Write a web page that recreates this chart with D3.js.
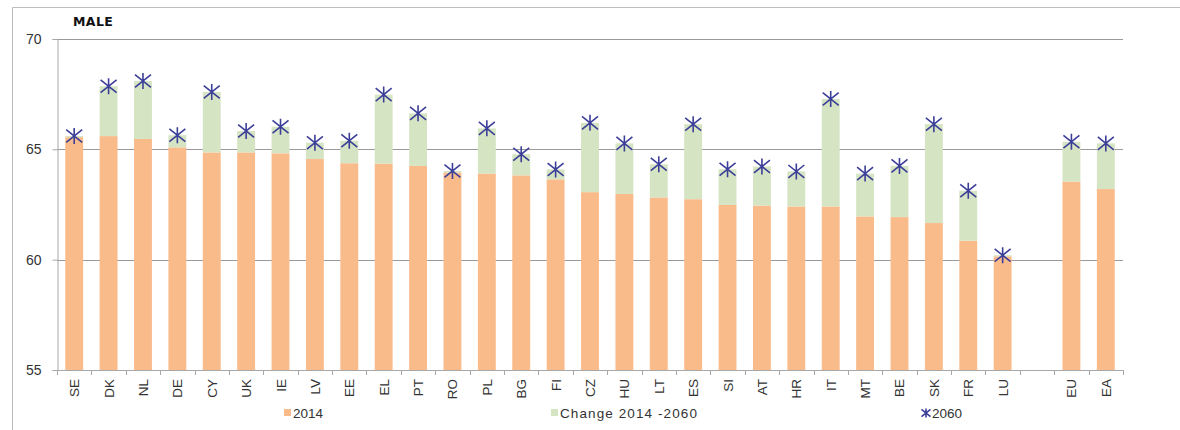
<!DOCTYPE html>
<html>
<head>
<meta charset="utf-8">
<script src="https://cdn.jsdelivr.net/npm/d3@7"></script>
<style>
  html, body { margin: 0; padding: 0; background: #fff; }
  svg { display: block; font-family: "Liberation Sans", Arial, sans-serif; }
</style>
</head>
<body>
<svg id="chart" width="1180" height="430"></svg>
<script>
// Member states, then a gap, then the EU / euro-area aggregates
const countries = ["SE","DK","NL","DE","CY","UK","IE","LV","EE","EL","PT","RO","PL","BG","FI",
                   "CZ","HU","LT","ES","SI","AT","HR","IT","MT","BE","SK","FR","LU"];
const aggregates = ["EU","EA"];

// Values for 2014 and 2060 (same order: countries then aggregates)
const value2014 = [65.55,65.6,65.47,65.09,64.86,64.86,64.82,64.56,64.37,64.35,64.25,63.95,63.9,63.82,63.64,
                   63.06,62.98,62.82,62.74,62.48,62.45,62.41,62.41,61.96,61.93,61.66,60.86,60.15,
                   63.54,63.2];
const value2060 = [65.6,67.86,68.1,65.64,67.6,65.83,66.02,65.3,65.39,67.48,66.63,64.02,65.95,64.78,64.09,
                   66.2,65.27,64.32,66.14,64.1,64.22,64.0,67.28,63.9,64.25,66.14,63.12,60.2,
                   65.34,65.27];

const yTicks = [55, 60, 65, 70];
const legendLabels = ["2014", "Change 2014 -2060", "2060"];

const colors = { base: "#FABB8B", change: "#D5E4C2", star: "#3C3F98", grid: "#9a9a9a", axis: "#a8a8a8" };

const labels = countries.concat(aggregates);
const rows = labels.map((c, i) => ({ c, v0: value2014[i], v1: value2060[i] }));
const gapKey = "__gap__";
const domain = countries.concat([gapKey], aggregates);

const svg = d3.select("#chart");
const plotLeft = 57, plotRight = 1123, plotTop = 39, plotBottom = 370;

// outer frame
svg.append("path")
  .attr("d", `M12.5,440 V7.5 H1180`)
  .attr("fill", "none").attr("stroke", "#bdbdbd").attr("stroke-width", 1);

const x = d3.scaleBand().domain(domain).range([plotLeft, plotRight]).paddingInner(0.48).paddingOuter(0.24);
const y = d3.scaleLinear().domain([55, 70]).range([plotBottom, plotTop]);

// gridlines
svg.append("g").selectAll("line").data(yTicks.filter(t => t > 55)).join("line")
  .attr("x1", plotLeft).attr("x2", plotRight)
  .attr("y1", d => Math.round(y(d)) + 0.5).attr("y2", d => Math.round(y(d)) + 0.5)
  .attr("stroke", colors.grid).attr("stroke-width", 1);

// bars: 2014 level from the axis floor, change on top
const bars = svg.append("g");
bars.selectAll("rect.base").data(rows).join("rect")
  .attr("class", "base")
  .attr("x", d => x(d.c)).attr("width", x.bandwidth())
  .attr("y", d => y(d.v0)).attr("height", d => y(55) - y(d.v0))
  .attr("fill", colors.base);
bars.selectAll("rect.change").data(rows).join("rect")
  .attr("class", "change")
  .attr("x", d => x(d.c)).attr("width", x.bandwidth())
  .attr("y", d => y(Math.max(d.v0, d.v1))).attr("height", d => Math.abs(y(d.v0) - y(d.v1)))
  .attr("fill", colors.change);

// y axis
const yAxis = svg.append("g").attr("transform", `translate(${plotLeft + 0.5},0)`)
  .call(d3.axisLeft(y).tickValues(yTicks).tickSize(5).tickPadding(11).tickFormat(d3.format("d")));
yAxis.select(".domain").attr("stroke", colors.axis);
yAxis.selectAll(".tick line").attr("stroke", colors.axis);
yAxis.selectAll(".tick text").attr("fill", "#333").style("font-size", "14px")
  .style("font-family", "'Liberation Sans', Arial, sans-serif");

// x axis: ticks sit on the band boundaries
const step = x.step();
const bounds = d3.range(domain.length + 1).map(i => plotLeft + i * step);
const xg = svg.append("g");
xg.append("line").attr("x1", plotLeft).attr("x2", plotRight)
  .attr("y1", plotBottom + 0.5).attr("y2", plotBottom + 0.5).attr("stroke", colors.axis);
xg.selectAll("line.tk").data(bounds).join("line").attr("class", "tk")
  .attr("x1", d => Math.round(d) + 0.5).attr("x2", d => Math.round(d) + 0.5)
  .attr("y1", plotBottom).attr("y2", plotBottom + 5).attr("stroke", colors.axis);
xg.selectAll("text").data(labels).join("text")
  .attr("transform", d => `translate(${x(d) + x.bandwidth() / 2 + 5},${plotBottom + 9}) rotate(-90)`)
  .attr("text-anchor", "end")
  .attr("fill", "#333").style("font-size", "13.5px")
  .text(d => d);

// 2060 markers: Excel-style star (X plus vertical stroke)
function star(g, cx, cy, s) {
  const h = s / 2;
  g.append("path")
    .attr("d", `M${cx - h},${cy - h * 0.8}L${cx + h},${cy + h * 0.8}M${cx - h},${cy + h * 0.8}L${cx + h},${cy - h * 0.8}M${cx},${cy - h}L${cx},${cy + h}`)
    .attr("stroke", colors.star).attr("stroke-width", 1.6).attr("fill", "none");
}
const marks = svg.append("g");
rows.forEach(d => star(marks, x(d.c) + x.bandwidth() / 2, y(d.v1), 16));

// title
svg.append("text").attr("x", 73).attr("y", 26)
  .style("font-family", "'DejaVu Sans', Verdana, sans-serif")
  .style("font-size", "12.5px").style("font-weight", "bold").style("letter-spacing", "0.4px")
  .attr("fill", "#111")
  .text("MALE");

// legend
const lg = svg.append("g").style("font-size", "13.5px").attr("fill", "#333");
lg.append("rect").attr("x", 284).attr("y", 409).attr("width", 7).attr("height", 7).attr("fill", colors.base);
lg.append("text").attr("x", 293).attr("y", 418).text(legendLabels[0]);
lg.append("rect").attr("x", 551).attr("y", 409).attr("width", 7).attr("height", 7).attr("fill", colors.change);
lg.append("text").attr("x", 560).attr("y", 418).style("letter-spacing", "1.1px").text(legendLabels[1]);
star(lg, 926, 413, 9);
lg.append("text").attr("x", 932).attr("y", 418).text(legendLabels[2]);
</script>
</body>
</html>
